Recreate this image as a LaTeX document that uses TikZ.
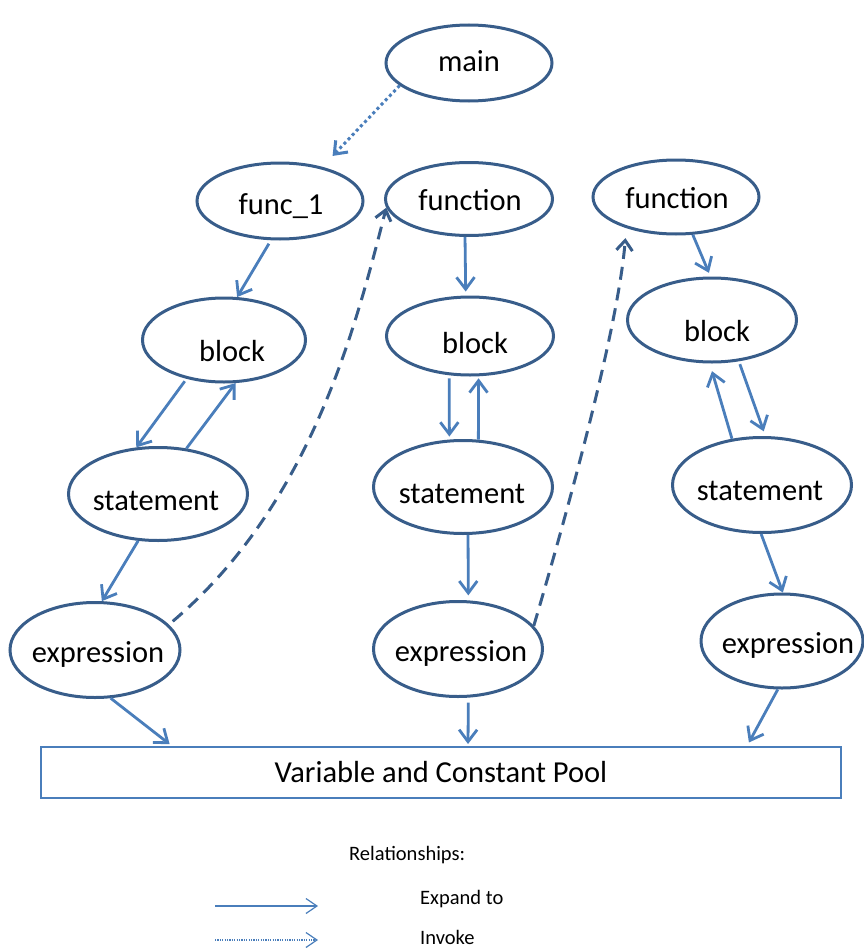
\documentclass[tikz,border=0pt]{standalone}
\usepackage{fontspec}
\setmainfont{Carlito}
\usetikzlibrary{shapes.geometric,arrows.meta,calc}
\definecolor{edgeblue}{HTML}{385D8A}
\definecolor{arrblue}{HTML}{4A7EBB}
% text centred #1 right of and with its baseline #2 below the node centre, taking no room
\newcommand{\ctext}[3]{\makebox[0pt][c]{\kern#1\kern#1\raisebox{-#2}[0pt][0pt]{#3}}}
\begin{document}
\begin{tikzpicture}[x=1pt,y=-1pt,
  ell/.style={ellipse, draw=edgeblue, line width=3pt, inner sep=0pt, fill=white,
    font=\fontsize{30.5}{36}\selectfont, text=black},
  small/.style={ell, minimum width=166pt, minimum height=76pt},
  big/.style={ell, minimum width=179pt, minimum height=93pt},
  exparr/.style={draw=arrblue, line width=2.8pt, -{Straight Barb[length=12pt,width=18pt]}},
  invarr/.style={draw=arrblue, line width=3pt, dash pattern=on 3pt off 3pt, -{Straight Barb[length=11pt,width=17pt]}},
  callarr/.style={draw=edgeblue, line width=3pt, dash pattern=on 13pt off 8pt, -{Straight Barb[length=10pt,width=16pt]}},
  legtext/.style={font=\fontsize{20.5}{24}\selectfont, inner sep=0pt, anchor=west},
  legexp/.style={draw=arrblue, line width=1.2pt, -{Straight Barb[length=11pt,width=15pt]}},
  leginv/.style={draw=arrblue, line width=1.2pt, dash pattern=on 1.2pt off 1.2pt, -{Straight Barb[length=11pt,width=15pt]}},
]
\useasboundingbox (0,0) rectangle (863,950);
% column 1
\node[small] (main) at (469,63) {\ctext{0pt}{9pt}{main}};
\node[small] (func1) at (280,201) {\ctext{1pt}{13pt}{func\_1}};
\node[ell, minimum width=163pt, minimum height=84pt] (blk1) at (224,340) {\ctext{8pt}{21pt}{block}};
\node[big] (st1) at (158,494) {\ctext{-2pt}{16pt}{statement}};
\node[ell, minimum width=170pt, minimum height=95pt] (ex1) at (95,650) {\ctext{3pt}{12pt}{expression}};
% column 2
\node[ell, minimum width=167pt, minimum height=73pt] (fun2) at (469,199) {\ctext{1pt}{11pt}{function}};
\node[ell, minimum width=167pt, minimum height=78pt] (blk2) at (470,336) {\ctext{5pt}{17pt}{block}};
\node[big] (st2) at (463,487) {\ctext{-1pt}{16pt}{statement}};
\node[ell, minimum width=169pt, minimum height=95pt] (ex2) at (458,649) {\ctext{3pt}{12pt}{expression}};
% column 3
\node[ell, minimum width=166pt, minimum height=74pt] (fun3) at (676,197) {\ctext{1pt}{11pt}{function}};
\node[ell, minimum width=169pt, minimum height=84pt] (blk3) at (712,320) {\ctext{5pt}{21pt}{block}};
\node[ell, minimum width=179pt, minimum height=95pt] (st3) at (762,485) {\ctext{-2pt}{15pt}{statement}};
\node[ell, minimum width=162pt, minimum height=94pt] (ex3) at (782,641) {\ctext{6pt}{12pt}{expression}};
% pool
\node[draw=arrblue, line width=2pt, minimum width=800pt, minimum height=51pt, inner sep=0pt,
  font=\fontsize{30.5}{36}\selectfont] (pool) at (441,772.5) {Variable and Constant Pool};

% connectors column 1
\draw[invarr, shorten >=15pt] (main.198) -- (func1.39);
\draw[exparr, shorten <=4pt] (func1.257) -- (blk1.73);
\draw[exparr, shorten <=3pt] (blk1.226) -- (st1.115);
\draw[exparr] (st1.58) -- (blk1.285);
\draw[exparr] (st1.247) -- (ex1.82);
\draw[exparr, shorten >=3pt] (ex1.288) -- ([xshift=-269pt]pool.north);
\draw[callarr, shorten <=5pt] (ex1.19) .. controls (310,505) and (355,330) .. (fun2.186);
% column 2
\draw[exparr, shorten >=4pt] (fun2.264) -- (blk2.96);
\draw[exparr, shorten <=3pt, shorten >=3pt] (blk2.242) -- (st2.106);
\draw[exparr, shorten >=2pt] (st2.72) -- (blk2.282);
\draw[exparr, shorten >=5pt] (st2.276) -- (ex2.78);
\draw[exparr, shorten <=5pt, shorten >=2pt] (ex2.282) -- ([xshift=27pt]pool.north);
\draw[callarr, shorten >=10pt] (ex2.17) .. controls (565,520) and (618,330) .. (fun3.212);
% column 3
\draw[exparr, shorten >=4pt] (fun3.294) -- (blk3.92);
\draw[exparr, shorten <=3pt, shorten >=5pt] (blk3.303) -- (st3.86);
\draw[exparr, shorten >=8pt] (st3.123) -- (blk3.267);
\draw[exparr] (st3.269) -- (ex3.89);
\draw[exparr, shorten >=4pt] (ex3.265) -- ([xshift=306pt]pool.north);

% legend
\node[legtext] (rel) at (349,855) {Relationships:};
\coordinate (e1) at (215,906);
\coordinate (e2) at (318,906);
\draw[legexp] (e1) -- (e2);
\node[legtext] (exptxt) at (420,899) {Expand to};
\coordinate (i1) at (215,940);
\coordinate (i2) at (318,940);
\draw[leginv] (i1) -- (i2);
\node[legtext] (invtxt) at (420,937) {Invoke};
\end{tikzpicture}
\end{document}
